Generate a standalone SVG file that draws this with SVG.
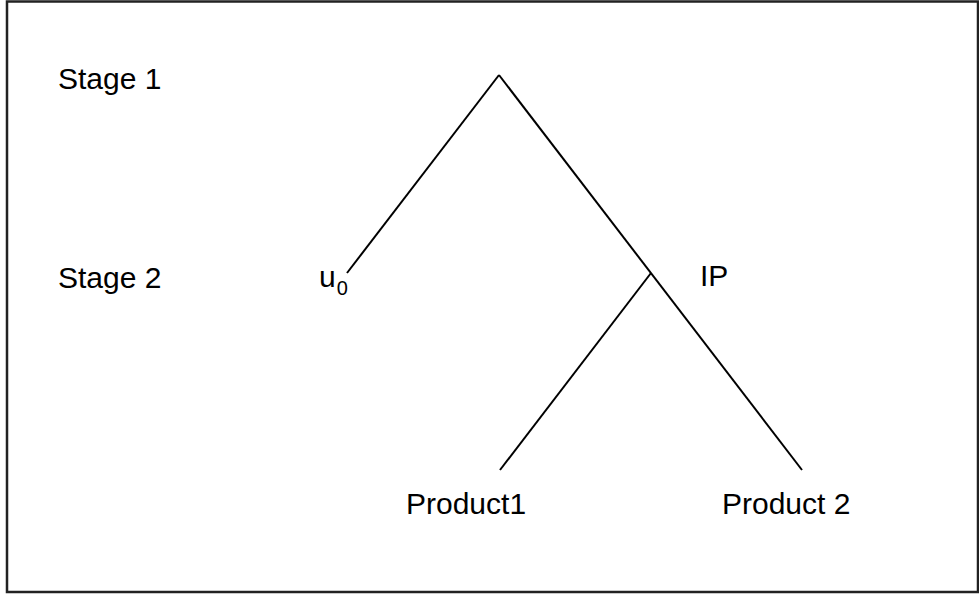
<svg xmlns="http://www.w3.org/2000/svg" width="979" height="594" viewBox="0 0 979 594">
<style>
.t{font-family:"Liberation Sans",Arial,sans-serif;font-size:30px;fill:#000}
.s{font-family:"Liberation Sans",Arial,sans-serif;font-size:20px;fill:#000}
.e{stroke:#000;stroke-width:2;fill:none;stroke-linecap:butt}
</style>
<rect x="0" y="0" width="979" height="594" fill="#fff"/>
<rect x="7" y="1.5" width="971" height="590.5" fill="none" stroke="#222" stroke-width="2.5"/>
<g id="labels">
<text class="t" x="58" y="89">Stage 1</text>
<text class="t" x="58" y="288">Stage 2</text>
</g>
<g id="connectors">
<line class="e" x1="499" y1="75" x2="347" y2="273"/>
<line class="e" x1="499" y1="75" x2="802" y2="470"/>
<line class="e" x1="651" y1="273" x2="500" y2="470"/>
</g>
<g id="node-u0"><text class="t" x="319" y="287">u<tspan class="s" dx="1" dy="8">0</tspan></text></g>
<g id="node-ip"><text class="t" x="700" y="286">IP</text></g>
<g id="node-product1"><text class="t" x="406" y="514">Product1</text></g>
<g id="node-product2"><text class="t" x="722" y="514">Product 2</text></g>
</svg>
